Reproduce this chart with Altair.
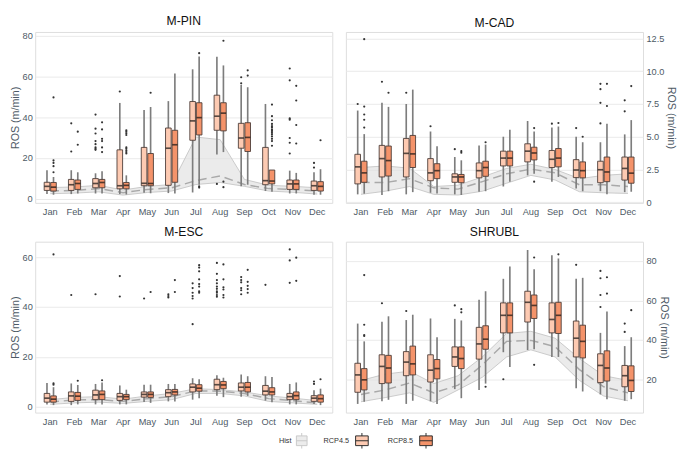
import altair as alt
import pandas as pd

months = ["Jan", "Feb", "Mar", "Apr", "May", "Jun", "Jul", "Aug", "Sep", "Oct", "Nov", "Dec"]
scenarios = ["RCP4.5", "RCP8.5"]

# ---------------- M-PIN ----------------
mpin45_lo = [2.3, 2.3, 2.6, 2.3, 3.0, 2.8, 3.1, 21.7, 6.1, 3.8, 2.6, 2.0]
mpin45_q1 = [4.1, 4.1, 5.4, 4.9, 6.4, 6.6, 28.7, 33.6, 24.8, 6.9, 4.6, 4.1]
mpin45_md = [6.1, 6.9, 7.5, 6.4, 7.6, 24.8, 38.2, 40.5, 29.8, 8.9, 7.3, 6.4]
mpin45_q3 = [8.1, 9.5, 9.9, 24.0, 25.2, 34.7, 47.7, 50.8, 37.0, 25.2, 9.2, 8.7]
mpin45_hi = [14.0, 14.0, 12.5, 47.0, 43.6, 47.9, 63.5, 69.6, 55.8, 46.5, 13.8, 13.0]
mpin45_out = [[], [23.2, 37.0], [41.3, 34.4, 32.0, 28.3, 26.8, 25.2, 24.5, 24.0], [52.6], [], [], [],
              [7.3], [59.6, 56.6], [], [63.9, 58.1, 39.4, 38.8, 29.8, 27.5, 22.2], [17.6, 15.3]]
mpin85_lo = [2.0, 2.6, 2.6, 2.1, 2.7, 2.6, 6.9, 22.9, 6.9, 3.4, 2.6, 2.0]
mpin85_q1 = [3.8, 4.6, 5.4, 4.9, 6.4, 8.1, 31.3, 33.3, 23.2, 7.3, 4.6, 3.8]
mpin85_md = [5.7, 7.5, 8.0, 6.6, 7.5, 26.5, 39.8, 42.0, 30.1, 8.7, 7.3, 6.1]
mpin85_q3 = [8.0, 9.2, 9.5, 8.0, 22.2, 33.6, 47.1, 47.1, 37.3, 14.1, 9.2, 8.4]
mpin85_hi = [10.7, 13.0, 13.5, 11.5, 45.0, 61.5, 69.8, 65.4, 54.7, 12.2, 12.7, 14.5]
mpin85_out = [[49.7, 18.8, 17.6, 16.0, 13.0], [32.9, 26.5], [37.5, 34.0, 29.4, 28.3, 25.2, 22.9],
              [33.6, 32.9, 32.1, 31.3, 25.2, 24.5, 23.7, 22.9, 22.2], [52.0], [], [71.4, 6.1, 5.5],
              [77.5, 8.4, 5.7], [63.0, 60.4],
              [46.2, 40.5, 38.5, 36.7, 35.6, 34.9, 33.9, 33.3, 32.6, 31.7, 30.6, 29.4, 28.3, 26.0],
              [55.4, 48.2, 36.2, 27.1], [28.7]]
mpin_h_lo = [2.5, 2.8, 3.4, 1.8, 3.1, 3.8, 7.0, 8.0, 6.1, 3.8, 3.2, 2.3]
mpin_h_mn = [3.8, 4.1, 5.0, 3.0, 4.6, 5.4, 8.9, 11.2, 7.0, 5.0, 4.6, 3.8]
mpin_h_hi = [5.5, 5.8, 6.6, 4.3, 6.1, 7.0, 30.3, 29.0, 9.5, 6.6, 6.1, 5.4]

# ---------------- M-CAD ----------------
mcad45_lo = [0.6, 0.55, 0.6, 0.72, 0.6, 0.8, 1.2, 2.05, 1.57, 1.04, 0.84, 0.77]
mcad45_q1 = [1.4, 1.93, 1.93, 1.64, 1.52, 1.86, 2.77, 3.08, 2.65, 1.88, 1.49, 1.69]
mcad45_md = [2.7, 3.33, 3.73, 2.24, 1.93, 2.41, 3.37, 3.9, 3.28, 2.46, 2.48, 2.58]
mcad45_q3 = [3.66, 4.34, 4.87, 3.33, 2.17, 3.0, 3.9, 4.46, 3.95, 3.25, 3.13, 3.45]
mcad45_hi = [7.0, 7.6, 7.5, 5.4, 3.45, 4.34, 5.0, 6.2, 5.7, 5.0, 4.58, 5.18]
mcad45_out = [[7.5], [9.2], [8.36], [5.8], [4.05], [], [], [], [6.0], [5.66],
              [9.04, 8.63, 7.59, 6.02], [7.78, 6.94]]
mcad85_lo = [0.65, 0.84, 0.77, 0.67, 0.55, 0.84, 1.57, 2.17, 1.93, 0.84, 0.6, 0.8]
mcad85_q1 = [1.52, 2.0, 2.65, 1.8, 1.49, 1.98, 2.77, 3.23, 2.7, 1.86, 1.57, 1.45]
mcad85_md = [2.24, 3.18, 3.69, 2.41, 1.93, 2.65, 3.37, 3.76, 3.37, 2.41, 2.31, 2.22]
mcad85_q3 = [3.13, 4.29, 5.1, 2.94, 2.12, 3.13, 3.9, 4.2, 4.1, 3.08, 3.45, 3.45]
mcad85_hi = [5.2, 7.28, 8.6, 4.27, 3.2, 4.4, 5.54, 5.4, 5.78, 4.58, 6.0, 6.27]
mcad85_out = [[12.45, 7.3, 6.7, 6.3, 5.7], [8.36], [], [], [3.9, 3.78], [4.58], [], [5.66, 1.57],
              [6.05], [5.0], [9.04, 7.35], [8.87]]
mcad_h_lo = [0.6, 0.84, 1.2, 0.6, 0.55, 0.84, 1.45, 2.05, 1.7, 0.8, 0.72, 0.67]
mcad_h_mn = [1.52, 1.5, 1.8, 1.1, 1.0, 1.57, 2.17, 2.53, 2.24, 1.33, 1.33, 1.2]
mcad_h_hi = [2.65, 2.77, 2.6, 1.2, 1.3, 1.93, 2.58, 2.9, 2.5, 1.8, 2.05, 2.17]

# ---------------- M-ESC ----------------
mesc45_lo = [0.9, 0.6, 0.9, 0.9, 1.9, 2.1, 2.8, 4.4, 4.0, 2.4, 0.9, 1.1]
mesc45_q1 = [1.8, 2.1, 2.8, 2.5, 3.8, 4.0, 5.9, 6.8, 6.3, 4.7, 2.8, 2.1]
mesc45_md = [3.4, 4.3, 4.7, 4.0, 4.9, 5.6, 7.8, 8.8, 7.8, 6.2, 4.0, 3.4]
mesc45_q3 = [5.3, 5.9, 6.6, 5.3, 5.9, 6.8, 9.1, 11.0, 9.5, 8.5, 5.3, 4.4]
mesc45_hi = [9.5, 9.3, 9.1, 8.5, 8.8, 9.1, 11.4, 12.6, 12.9, 12.2, 9.1, 6.6]
mesc45_out = [[], [44.8], [45.1], [52.4, 44.2], [43.4], [45.1, 44.4, 43.8],
              [49.5, 47.6, 45.7, 44.4, 43.4, 33.1],
              [57.7, 53.3, 50.8, 49.5, 48.2, 47.3, 46.3, 45.7, 44.8, 44.1],
              [52.0, 50.8, 49.9, 47.6, 46.7, 45.1], [48.9], [63.1, 58.7, 49.7], [10.1, 9.1]]
mesc85_lo = [0.6, 0.9, 0.9, 0.9, 1.5, 2.1, 3.4, 3.8, 4.3, 1.8, 0.9, 0.6]
mesc85_q1 = [1.8, 2.5, 2.8, 2.8, 3.7, 4.7, 6.2, 7.2, 5.9, 4.7, 2.8, 1.8]
mesc85_md = [3.0, 4.2, 4.9, 4.0, 4.9, 5.9, 7.4, 8.7, 7.8, 5.9, 4.4, 3.2]
mesc85_q3 = [4.3, 5.7, 6.3, 4.9, 5.9, 6.9, 8.8, 10.1, 9.7, 7.6, 5.9, 4.7]
mesc85_hi = [7.8, 8.7, 9.7, 6.8, 8.8, 9.1, 11.0, 11.6, 12.2, 11.9, 9.7, 7.2]
mesc85_out = [[61.1, 9.3, 8.8], [10.4], [10.6], [], [46.0], [50.8, 46.0],
              [56.8, 55.8, 54.3, 51.1, 49.2, 48.2, 46.3, 45.7],
              [57.1, 51.1, 47.9, 47.0, 44.8, 43.8], [54.9, 50.1, 48.5, 47.2, 45.7], [],
              [59.8, 50.5], [11.0]]
mesc_h_lo = [0.9, 1.5, 1.8, 1.3, 2.1, 2.8, 5.3, 5.3, 4.3, 2.1, 1.5, 0.9]
mesc_h_mn = [1.8, 2.7, 2.8, 2.1, 3.2, 4.0, 6.3, 6.2, 5.3, 3.2, 2.4, 1.5]
mesc_h_hi = [2.8, 3.7, 4.0, 3.0, 4.3, 5.3, 7.2, 6.8, 5.9, 4.3, 3.4, 2.4]

# ---------------- SHRUBL ----------------
shr45_lo = [7.6, 8.9, 7.6, 8.9, 15.1, 14.7, 33.8, 34.9, 31.4, 15.5, 12.4, 9.2]
shr45_q1 = [13.5, 17.9, 21.9, 18.7, 26.6, 30.3, 43.6, 49.1, 43.6, 31.4, 18.4, 16.3]
shr45_md = [22.3, 26.6, 28.8, 24.7, 31.4, 38.0, 52.5, 59.1, 50.4, 40.9, 27.1, 21.9]
shr45_q3 = [28.2, 32.5, 34.1, 32.5, 36.5, 46.4, 58.8, 64.7, 58.8, 49.6, 33.0, 27.1]
shr45_hi = [48.3, 49.3, 50.1, 50.9, 50.7, 60.4, 71.0, 85.6, 82.9, 71.0, 43.6, 36.9]
shr45_out = [[], [58.6], [54.7], [], [57.5], [], [20.1], [], [], [78.1],
             [75.0, 71.3, 62.8, 56.7], [48.3, 44.1]]
shr85_lo = [8.7, 9.7, 9.2, 7.6, 10.5, 17.9, 26.3, 35.3, 31.4, 13.9, 10.0, 10.0]
shr85_q1 = [14.7, 18.2, 22.3, 20.3, 25.5, 35.3, 43.6, 50.9, 43.3, 30.9, 19.2, 13.9]
shr85_md = [19.8, 25.8, 27.9, 25.5, 30.6, 40.4, 52.5, 57.5, 52.5, 39.3, 25.8, 19.5]
shr85_q3 = [25.5, 32.2, 36.9, 30.1, 36.5, 47.2, 58.8, 62.8, 59.1, 47.5, 34.5, 26.9]
shr85_hi = [39.3, 52.0, 52.8, 41.4, 49.9, 64.7, 77.3, 75.8, 81.3, 71.5, 54.4, 41.4]
shr85_out = [[72.9, 47.7, 42.5, 42.0], [], [], [], [55.6, 54.0], [16.3], [], [81.8, 27.4],
             [83.4], [], [71.8, 63.5], [55.1]]
shr_h_lo = [8.7, 10.8, 13.2, 8.4, 14.7, 21.1, 31.4, 35.0, 31.4, 19.5, 11.6, 9.2]
shr_h_mn = [12.4, 14.7, 18.2, 13.2, 17.1, 27.4, 39.3, 39.8, 36.6, 25.0, 16.3, 13.2]
shr_h_hi = [19.5, 22.7, 24.2, 17.9, 21.9, 31.4, 43.3, 44.4, 40.9, 30.6, 21.9, 19.5]

# legend
legend_labels = ["Hist", "RCP4.5", "RCP8.5"]

C45 = "#FDCAB2"
C85 = "#F4936A"
FONT = "Liberation Sans"
LABEL_COLOR = "#4e5a66"
W, H = 306, 176


def panel(title, s45, s85, o45, o85, hist, domain, ticks, orient, label_expr=None):
    rows = []
    outs = []
    for scn, s, o in (("RCP4.5", s45, o45), ("RCP8.5", s85, o85)):
        for i, m in enumerate(months):
            rows.append(dict(month=m, scen=scn, lo=s[0][i], q1=s[1][i], med=s[2][i],
                             q3=s[3][i], hi=s[4][i]))
            for v in o[i]:
                outs.append(dict(month=m, scen=scn, v=v))
    box_df = pd.DataFrame(rows)
    out_df = pd.DataFrame(outs)
    hist_df = pd.DataFrame(dict(month=months, hlo=hist[0], hmn=hist[1], hhi=hist[2]))

    xaxis = alt.Axis(labelAngle=0, ticks=False, domain=False, grid=False, labelPadding=4,
                     labelFontSize=9.5, labelColor=LABEL_COLOR, labelFont=FONT)
    xscale = alt.Scale(paddingInner=0.5, paddingOuter=0.37)
    xb = alt.X("month:N", sort=months, title=None, scale=xscale, axis=xaxis)
    xc = alt.X("month:N", sort=months, title=None, scale=xscale, axis=xaxis, bandPosition=0.5)
    xo = alt.XOffset("scen:N", sort=scenarios, scale=alt.Scale(paddingInner=0.14))

    yscale = alt.Scale(domain=domain, nice=False, zero=False)
    ax_kw = dict(orient=orient, values=ticks, title="ROS (m/min)", grid=True,
                 gridColor="#e9e9e9", gridWidth=1, ticks=False, domain=False,
                 labelFontSize=9.5, labelColor=LABEL_COLOR, labelFont=FONT, labelPadding=3,
                 titleFontSize=11, titleFontWeight="normal", titleColor=LABEL_COLOR,
                 titleFont=FONT, titlePadding=2)
    if label_expr:
        ax_kw["labelExpr"] = label_expr
    yaxis = alt.Axis(**ax_kw)

    def Y(f):
        return alt.Y(f + ":Q", scale=yscale, axis=yaxis)

    band = alt.Chart(hist_df).mark_area(color="#e0e0e0", opacity=0.65).encode(
        x=xc, y=Y("hlo"), y2="hhi")
    band_lo = alt.Chart(hist_df).mark_line(color="#c4c4c4", strokeWidth=0.9).encode(x=xc, y=Y("hlo"))
    band_hi = alt.Chart(hist_df).mark_line(color="#c4c4c4", strokeWidth=0.9).encode(x=xc, y=Y("hhi"))
    mean = alt.Chart(hist_df).mark_line(color="#a9a9a9", strokeWidth=1.5,
                                        strokeDash=[9, 5]).encode(x=xc, y=Y("hmn"))
    whisk = alt.Chart(box_df).mark_rule(color="#7d7d7d", strokeWidth=1.7).encode(
        x=xb, xOffset=xo, y=Y("lo"), y2="hi")
    boxes = alt.Chart(box_df).mark_bar(stroke="#4a3b36", strokeWidth=0.9).encode(
        x=xb, xOffset=xo, y=Y("q1"), y2="q3",
        fill=alt.Fill("scen:N", scale=alt.Scale(domain=scenarios, range=[C45, C85]), legend=None))
    med = alt.Chart(box_df).mark_tick(color="#111111", thickness=1.7, size=5.5).encode(
        x=xb, xOffset=xo, y=Y("med"))
    pts = alt.Chart(out_df).mark_circle(size=5, color="#333333", opacity=1).encode(
        x=xb, xOffset=xo, y=Y("v"))

    return alt.layer(band, band_lo, band_hi, mean, whisk, boxes, med, pts).properties(
        width=W, height=H,
        title=alt.TitleParams(title, fontSize=12.5, fontWeight="normal", font=FONT,
                              color="#111111", offset=3))


p1 = panel("M-PIN",
           (mpin45_lo, mpin45_q1, mpin45_md, mpin45_q3, mpin45_hi),
           (mpin85_lo, mpin85_q1, mpin85_md, mpin85_q3, mpin85_hi),
           mpin45_out, mpin85_out, (mpin_h_lo, mpin_h_mn, mpin_h_hi),
           [-2.0, 81.8], [0, 20, 40, 60, 80], "left")
p2 = panel("M-CAD",
           (mcad45_lo, mcad45_q1, mcad45_md, mcad45_q3, mcad45_hi),
           (mcad85_lo, mcad85_q1, mcad85_md, mcad85_q3, mcad85_hi),
           mcad45_out, mcad85_out, (mcad_h_lo, mcad_h_mn, mcad_h_hi),
           [-0.05, 13.0], [0, 2.5, 5, 7.5, 10, 12.5], "right",
           label_expr="datum.value == 0 ? '0' : format(datum.value, '.1f')")
p3 = panel("M-ESC",
           (mesc45_lo, mesc45_q1, mesc45_md, mesc45_q3, mesc45_hi),
           (mesc85_lo, mesc85_q1, mesc85_md, mesc85_q3, mesc85_hi),
           mesc45_out, mesc85_out, (mesc_h_lo, mesc_h_mn, mesc_h_hi),
           [-2.4, 66.2], [0, 20, 40, 60], "left")
p4 = panel("SHRUBL",
           (shr45_lo, shr45_q1, shr45_md, shr45_q3, shr45_hi),
           (shr85_lo, shr85_q1, shr85_md, shr85_q3, shr85_hi),
           shr45_out, shr85_out, (shr_h_lo, shr_h_mn, shr_h_hi),
           [3.2, 89.8], [20, 40, 60, 80], "right")

grid = alt.concat(p1, p2, p3, p4, columns=2, spacing={"row": 10, "column": 12})

# ---------------- legend ----------------
leg_df = pd.DataFrame(dict(
    label=legend_labels,
    tx=[0, 46, 112],
    bx=[18, 79, 145],
    bx2=[29, 92, 158],
    fill=["#ececec", C45, C85],
    stroke=["#c8c8c8", "#2b2b2b", "#2b2b2b"],
))
leg_df["cx"] = (leg_df["bx"] + leg_df["bx2"]) / 2
lx = alt.Scale(domain=[0, 158], nice=False, zero=False)
leg_base = alt.Chart(leg_df)
leg_text = leg_base.mark_text(align="left", baseline="middle", fontSize=7.5, font=FONT,
                              color="#333333").encode(
    x=alt.X("tx:Q", scale=lx, axis=None), y=alt.value(8), text="label:N")
leg_stub = leg_base.mark_rule(strokeWidth=1).encode(
    x=alt.X("cx:Q", scale=lx, axis=None), y=alt.value(0), y2=alt.value(16),
    color=alt.Color("stroke:N", scale=None))
leg_box = leg_base.mark_rect(strokeWidth=1).encode(
    x=alt.X("bx:Q", scale=lx, axis=None), x2="bx2:Q", y=alt.value(3), y2=alt.value(13),
    fill=alt.Fill("fill:N", scale=None), stroke=alt.Stroke("stroke:N", scale=None))
leg_mid = leg_base.mark_rule(strokeWidth=1).encode(
    x=alt.X("bx:Q", scale=lx, axis=None), x2="bx2:Q", y=alt.value(8),
    color=alt.Color("stroke:N", scale=None))
legend = alt.layer(leg_stub, leg_box, leg_mid, leg_text).properties(
    width=158, height=16, view=alt.ViewBackground(stroke="transparent"))

chart = alt.vconcat(grid, legend, spacing=6, center=True).properties(
    padding={"left": 0, "top": 0, "right": 0, "bottom": 0}
).configure_view(stroke="#d2d2d2", strokeWidth=1).configure(font=FONT)

chart.save("out.html", embed_options={"renderer": "svg", "actions": False})
